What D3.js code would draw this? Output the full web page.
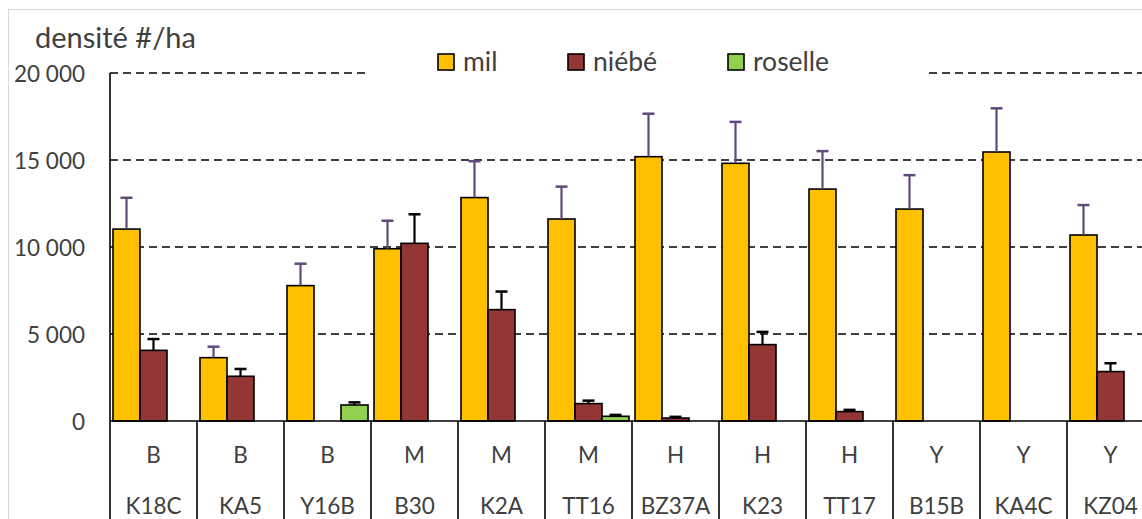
<!DOCTYPE html>
<html><head><meta charset="utf-8">
<script src="https://cdn.jsdelivr.net/npm/d3@7/dist/d3.min.js"></script>
<style>
html,body{margin:0;padding:0;background:#fff;}
svg{display:block;}
text{font-family:Lato,"Open Sans",sans-serif;fill:#404040;}
</style></head>
<body>
<svg id="c" width="1142" height="519"></svg>
<script>
const categories = ["K18C","KA5","Y16B","B30","K2A","TT16","BZ37A","K23","TT17","B15B","KA4C","KZ04"];
const groups = ["B","B","B","M","M","M","H","H","H","Y","Y","Y"];
const seriesNames = ["mil","niébé","roselle"];
const mil = [11030, 3640, 7780, 9900, 12840, 11610, 15190, 14810, 13330, 12180, 15460, 10690];
const milErr = [1800, 630, 1260, 1610, 2090, 1860, 2470, 2380, 2180, 1950, 2510, 1720];
const niebe = [4060, 2570, null, 10210, 6400, 1000, 170, 4390, 540, null, null, 2840];
const niebeErr = [650, 420, null, 1670, 1040, 170, 70, 730, 100, null, null, 480];
const roselle = [null, null, 920, null, null, 270, null, null, null, null, null, null];
const roselleErr = [null, null, 150, null, null, 80, null, null, null, null, null, null];
const yTicks = [0, 5000, 10000, 15000, 20000];
const colors = ["#FFC000", "#943634", "#92D050"];
const errColors = ["#604A7B", "#000000", "#000000"];

const values = [mil, niebe, roselle];
const errs = [milErr, niebeErr, roselleErr];

const svg = d3.select("#c");
const mLeft = 110, mTop = 73, mBottom = 421;
const step = 87;

const x = d3.scaleBand().domain(categories).range([mLeft, mLeft + step * categories.length]).padding(0);
const xs = d3.scaleBand().domain(seriesNames).range([0, x.bandwidth()]).paddingInner(0).paddingOuter(1/9);
const y = d3.scaleLinear().domain([0, 20000]).range([mBottom, mTop]);

// chart border
svg.append("rect").attr("x", 8.5).attr("y", 9.5).attr("width", 1200).attr("height", 600)
  .attr("fill", "none").attr("stroke", "#D9D9D9").attr("stroke-width", 1);

// gridlines
svg.append("g").selectAll("line").data(yTicks.filter(d => d > 0)).join("line")
  .attr("x1", mLeft).attr("x2", 1142)
  .attr("y1", d => y(d)).attr("y2", d => y(d))
  .attr("stroke", "#000").attr("stroke-width", 1.5).attr("stroke-dasharray", "8,5");

// legend background
svg.append("rect").attr("x", 369).attr("y", 40).attr("width", 559).attr("height", 45).attr("fill", "#fff");

// y axis labels
const loc = d3.formatLocale({thousands: "\u00a0", grouping: [3], decimal: ",", currency: ["", ""]});
const fmt = loc.format(",");
const yAxis = svg.append("g").attr("transform", "translate(85,0)")
  .call(d3.axisLeft(y).tickValues(yTicks).tickSize(0).tickPadding(0).tickFormat(fmt));
yAxis.select(".domain").remove();
yAxis.selectAll("text").attr("font-size", 22.5).attr("font-family", "Lato").attr("fill", "#404040").attr("dy", "0.36em");

// bars
const seriesG = svg.append("g").selectAll("g").data(seriesNames).join("g");
seriesG.each(function(s, si) {
  const g = d3.select(this);
  const data = categories.map((c, i) => ({c, v: values[si][i], e: errs[si][i]})).filter(d => d.v != null);
  g.selectAll("rect").data(data).join("rect")
    .attr("x", d => x(d.c) + xs(s))
    .attr("width", xs.bandwidth())
    .attr("y", d => y(d.v))
    .attr("height", d => y(0) - y(d.v))
    .attr("fill", colors[si]).attr("stroke", "#000").attr("stroke-width", 1.6);
  const eb = data.filter(d => d.e != null);
  g.selectAll("line.stem").data(eb).join("line").attr("class", "stem")
    .attr("x1", d => x(d.c) + xs(s) + xs.bandwidth() / 2)
    .attr("x2", d => x(d.c) + xs(s) + xs.bandwidth() / 2)
    .attr("y1", d => y(d.v)).attr("y2", d => y(d.v + d.e))
    .attr("stroke", errColors[si]).attr("stroke-width", 2.2);
  g.selectAll("line.cap").data(eb).join("line").attr("class", "cap")
    .attr("x1", d => x(d.c) + xs(s) + xs.bandwidth() / 2 - 6)
    .attr("x2", d => x(d.c) + xs(s) + xs.bandwidth() / 2 + 6)
    .attr("y1", d => y(d.v + d.e)).attr("y2", d => y(d.v + d.e))
    .attr("stroke", errColors[si]).attr("stroke-width", 2.5);
});

// axes lines
svg.append("line").attr("x1", mLeft).attr("x2", 1142).attr("y1", y(0)).attr("y2", y(0))
  .attr("stroke", "#000").attr("stroke-width", 1.6);
svg.append("line").attr("x1", mLeft).attr("x2", mLeft).attr("y1", mTop).attr("y2", 519)
  .attr("stroke", "#000").attr("stroke-width", 1.6);
// category separators
svg.append("g").selectAll("line").data(categories).join("line")
  .attr("x1", d => x(d) + step).attr("x2", d => x(d) + step)
  .attr("y1", y(0)).attr("y2", 519).attr("stroke", "#000").attr("stroke-width", 1.6);

// category labels
svg.append("g").selectAll("text").data(categories).join("text")
  .attr("x", d => x(d) + step / 2).attr("y", 463).attr("text-anchor", "middle").attr("font-size", 22.5)
  .text((d, i) => groups[i]);
svg.append("g").selectAll("text").data(categories).join("text")
  .attr("x", d => x(d) + step / 2).attr("y", 514).attr("text-anchor", "middle").attr("font-size", 22.5)
  .text(d => d);

// title
svg.append("text").attr("x", 35).attr("y", 48).attr("font-size", 29).text("densité #/ha");

// legend
const legX = [438, 568, 728];
const leg = svg.append("g").selectAll("g").data(seriesNames).join("g")
  .attr("transform", (d, i) => `translate(${legX[i]},0)`);
leg.append("rect").attr("x", 0).attr("y", 54).attr("width", 16).attr("height", 16)
  .attr("fill", (d, i) => colors[i]).attr("stroke", "#000").attr("stroke-width", 1.6);
leg.append("text").attr("x", 25).attr("y", 71).attr("font-size", 26.5).text(d => d);
</script>
</body></html>
